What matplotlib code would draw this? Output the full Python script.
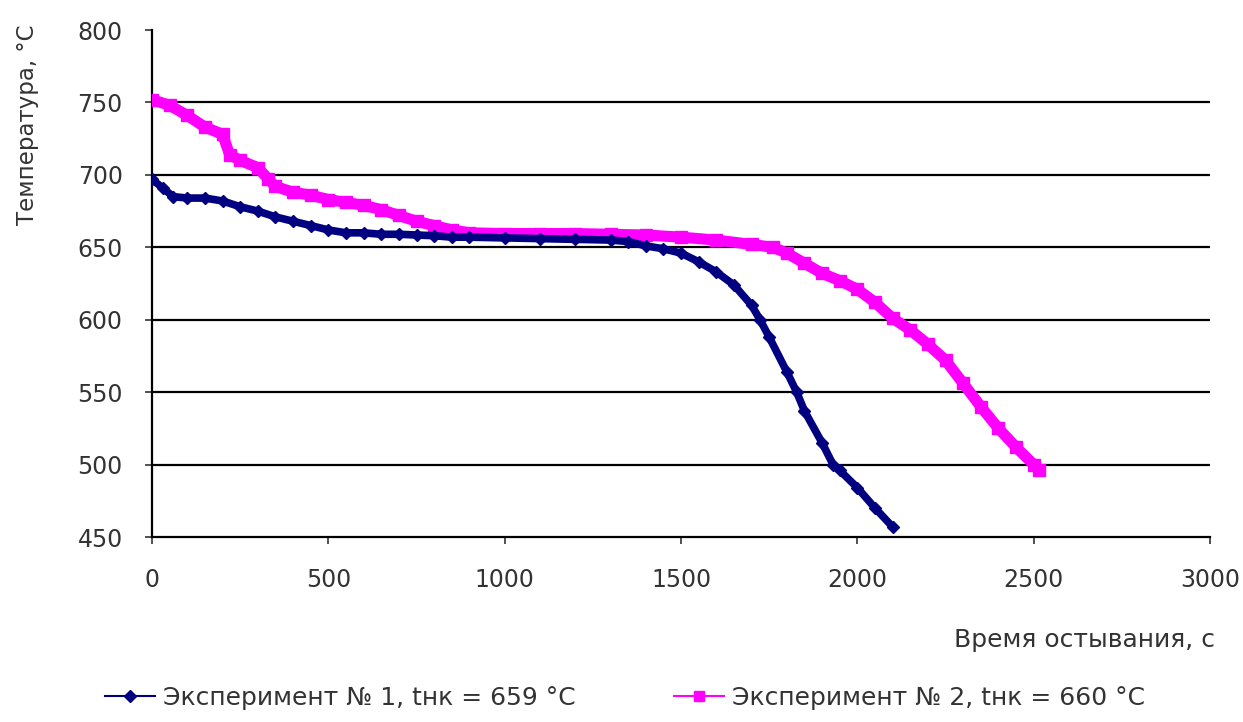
# Cooling curves of two experiments (temperature vs. cooling time)
import matplotlib
matplotlib.use('Agg')
import matplotlib.pyplot as plt
from matplotlib.lines import Line2D

plt.rcParams['font.family'] = ['DejaVu Sans']

# Experiment 1: time, s and temperature, C
time1 = [0, 30, 60, 100, 150, 200, 250, 300, 350, 400, 450, 500, 550, 600, 650,
         700, 750, 800, 850, 900, 1000, 1100, 1200, 1300, 1350, 1400, 1450, 1500,
         1550, 1600, 1650, 1700, 1724, 1750, 1800, 1828, 1850, 1900, 1931, 1950,
         2000, 2050, 2100]
temp1 = [697, 691, 685, 684, 684, 682, 678, 675, 671, 668, 665, 662, 660, 660, 659,
         659, 658.5, 658, 657, 657, 656.5, 656, 655.5, 655, 654, 651, 649, 646,
         640, 633, 624, 610, 600, 588, 564, 550, 537, 515, 500, 496,
         484, 470, 457]

# Experiment 2
time2 = [0, 50, 100, 150, 200, 220, 250, 300, 330, 350, 400, 450, 500, 550, 600,
         650, 700, 750, 800, 850, 900, 1000, 1100, 1200, 1300, 1400, 1500, 1600,
         1700, 1761, 1800, 1850, 1900, 1950, 2000, 2050, 2100, 2150, 2200, 2250,
         2300, 2350, 2400, 2450, 2500, 2515]
temp2 = [752, 748, 741, 733, 728, 714, 710, 705, 697, 692, 688, 686, 683, 681, 679,
         676, 672, 668, 665, 662, 660, 659.5, 659.5, 659.5, 659, 658.5, 657, 655,
         652, 650, 646, 639, 632, 627, 621, 612, 601, 593, 583, 572,
         556, 540, 525, 512, 500, 496]

labels = ['Эксперимент № 1, tнк = 659 °C', 'Эксперимент № 2, tнк = 660 °C']
xticks = [0, 500, 1000, 1500, 2000, 2500, 3000]
yticks = [450, 500, 550, 600, 650, 700, 750, 800]

navy = '#000080'
pink = '#FF00FF'
txt = '#333333'

fig = plt.figure(figsize=(12.43, 7.22), dpi=100)
ax = fig.add_axes([0.1223, 0.2562, 0.8512, 0.7022])

# thick band + markers to imitate the dense marker trace
ax.plot(time2, temp2, color=pink, lw=8, solid_capstyle='butt', zorder=3)
ax.plot(time2, temp2, color=pink, marker='s', ms=8, ls='none', zorder=3)
ax.plot(time1, temp1, color=navy, lw=5.5, solid_capstyle='butt', zorder=4)
ax.plot(time1, temp1, color=navy, marker='D', ms=6, ls='none', zorder=4)

ax.set_xlim(0, 3000)
ax.set_ylim(450, 800)
ax.set_xticks(xticks)
ax.set_yticks(yticks)
ax.set_xticklabels([str(v) for v in xticks])
ax.tick_params(axis='x', direction='out', length=5, width=1.2, pad=17, labelsize=17,
               colors=txt)
ax.tick_params(axis='y', direction='out', length=5, width=1.2, pad=16, labelsize=17,
               colors=txt)

for v in yticks[1:-1]:
    ax.axhline(v, color='black', lw=1.6, zorder=1)

for s in ['top', 'right']:
    ax.spines[s].set_visible(False)
for s in ['left', 'bottom']:
    ax.spines[s].set_linewidth(1.6)

fig.text(1215 / 1243, 1 - 640 / 722, 'Время остывания, с', ha='right', va='center',
         fontsize=18, color=txt)
fig.text(28 / 1243, 1 - 125 / 722, 'Температура, °С', rotation=90, ha='center', va='center',
         fontsize=16.5, color=txt)

handles = [Line2D([], [], color=navy, lw=1.5, marker='D', ms=6),
           Line2D([], [], color=pink, lw=1.5, marker='s', ms=7)]
fig.legend(handles, labels, loc='center', bbox_to_anchor=(625 / 1243, 1 - 698 / 722), ncol=2,
           frameon=False, fontsize=18, handlelength=2.0, handletextpad=0.35,
           columnspacing=3.9, labelcolor=txt)

fig.savefig('out.png', dpi=100)
